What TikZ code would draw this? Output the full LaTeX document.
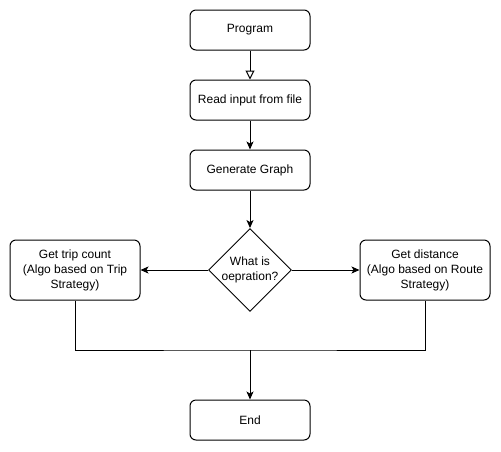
\documentclass[tikz,border=0pt]{standalone}
\usepackage{fontspec}
\setmainfont{Liberation Sans}
\usetikzlibrary{shapes.geometric,arrows.meta}
\begin{document}
\begin{tikzpicture}[x=1pt,y=-1pt,line width=1pt,
  >={Stealth[length=8pt,width=7pt,inset=2pt]},
  stepbox/.style={draw,rounded corners=6pt,align=center,inner sep=0pt,
    font=\fontsize{12}{15}\selectfont},
  choice/.style={draw,diamond,minimum width=80pt,minimum height=80pt,inner sep=0pt,
    align=center,font=\fontsize{12}{15}\selectfont}]
\useasboundingbox (0,0) rectangle (501,451);

\node[stepbox,minimum width=120pt,minimum height=40pt] (prog) at (250,30) {Program};
\node[stepbox,minimum width=120pt,minimum height=40pt] (read) at (250,100) {Read input from file};
\node[stepbox,minimum width=120pt,minimum height=40pt] (graph) at (250,170) {Generate Graph};
\node[choice] (op) at (250,270) {What is\\oepration?};
\node[stepbox,minimum width=130pt,minimum height=60pt] (trip) at (75,270)
  {Get trip count\\(Algo based on Trip\\Strategy)};
\node[stepbox,minimum width=130pt,minimum height=60pt] (dist) at (425,270)
  {Get distance\\(Algo based on Route\\Strategy)};
\node[stepbox,minimum width=120pt,minimum height=40pt] (end) at (250,420) {End};
\coordinate (join) at (250,350);

\draw[-{Triangle[open,length=9pt,width=9pt]}] (prog) -- (read);
\draw[->] (read) -- (graph);
\draw[->] (graph) -- (op);
\draw[->] (op) -- (trip);
\draw[->] (op) -- (dist);
\draw (trip.south) |- (join) -| (dist.south);
\draw[->] (join) -- (end);
\end{tikzpicture}
\end{document}
